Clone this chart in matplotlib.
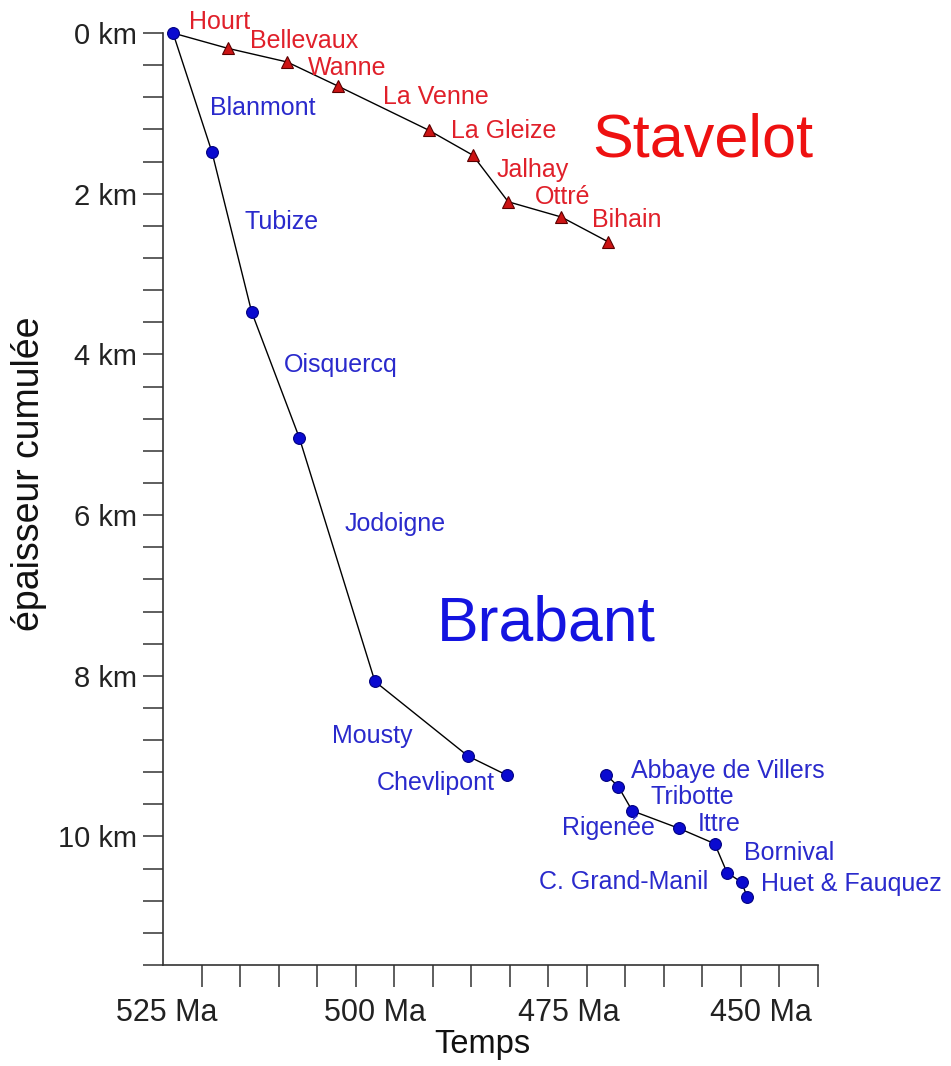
import matplotlib.pyplot as plt
import matplotlib.transforms as mtransforms

plt.rcParams["font.family"] = ["Liberation Sans", "DejaVu Sans"]

# Stavelot massif (red triangles) - age in Ma, cumulative thickness in km
stav_ma = [528.7, 521.6, 513.9, 507.3, 495.5, 489.8, 485.2, 478.3, 472.2]
stav_km = [0.0, 0.19, 0.36, 0.66, 1.21, 1.52, 2.10, 2.29, 2.60]
stav_names = ["Hourt", "Bellevaux", "Wanne", "La Venne", "La Gleize",
              "Jalhay", "Ottré", "Bihain"]
stav_label_pos = [(526.6, -0.14), (518.7, 0.10), (511.2, 0.44), (501.5, 0.80),
                  (492.6, 1.22), (486.7, 1.71), (481.8, 2.04), (474.3, 2.33)]

# Brabant massif (blue circles), two separate segments
brab1_ma = [528.7, 523.65, 518.5, 512.3, 502.5, 490.4, 485.3]
brab1_km = [0.0, 1.48, 3.47, 5.04, 8.07, 9.00, 9.24]
brab2_ma = [472.5, 470.9, 469.1, 463.0, 458.4, 456.8, 454.9, 454.2]
brab2_km = [9.23, 9.38, 9.68, 9.90, 10.09, 10.45, 10.57, 10.75]
brab_names = ["Blanmont", "Tubize", "Oisquercq", "Jodoigne", "Mousty",
              "Chevlipont", "Abbaye de Villers", "Tribotte", "Rigenée",
              "Ittre", "Bornival", "C. Grand-Manil", "Huet & Fauquez"]
brab_label_pos = [(523.9, 0.93), (519.4, 2.35), (514.3, 4.13), (506.4, 6.11),
                  (508.1, 8.75), (502.2, 9.34), (469.2, 9.18), (466.7, 9.51),
                  (478.2, 9.90), (460.6, 9.84), (454.6, 10.21), (481.2, 10.57),
                  (452.4, 10.59)]

x_major = [525, 500, 475, 450]
x_labels = ["525 Ma", "500 Ma", "475 Ma", "450 Ma"]
y_major = [0, 2, 4, 6, 8, 10]
y_labels = ["0 km", "2 km", "4 km", "6 km", "8 km", "10 km"]

RED_TXT = "#e0202a"
BLUE_TXT = "#2a2acc"

fig = plt.figure(figsize=(9.51, 10.66), dpi=100)
ax = fig.add_axes([0.1714, 0.0947, 0.6887, 0.8743])

ax.plot(stav_ma, stav_km, color="black", lw=1, zorder=2, clip_on=False)
ax.plot(stav_ma[1:], stav_km[1:], ls="none", marker="^", ms=9,
        mfc="#cc1414", mec="#5a0000", mew=0.8, zorder=3, clip_on=False)

ax.plot(brab1_ma, brab1_km, color="black", lw=1, zorder=2, clip_on=False)
ax.plot(brab2_ma, brab2_km, color="black", lw=1, zorder=2, clip_on=False)
for xs, ys in [(brab1_ma, brab1_km), (brab2_ma, brab2_km)]:
    ax.plot(xs, ys, ls="none", marker="o", ms=8.5, mfc="#0a0ad0",
            mec="#000080", mew=0.8, zorder=3, clip_on=False)

for name, (x, y) in zip(stav_names, stav_label_pos):
    ax.text(x, y, name, color=RED_TXT, fontsize=18, ha="left", va="center")
for name, (x, y) in zip(brab_names, brab_label_pos):
    ax.text(x, y, name, color=BLUE_TXT, fontsize=18, ha="left", va="center")

ax.text(474.3, 1.34, "Stavelot", color="#ee1111", fontsize=44,
        ha="left", va="center")
ax.text(494.5, 7.35, "Brabant", color="#1414e0", fontsize=45,
        ha="left", va="center")

ax.set_xlim(530, 445)
ax.set_ylim(11.6, 0)

ax.set_xticks(x_major)
ax.set_xticklabels(x_labels)
ax.set_xticks([525 - 5 * i for i in range(17)], minor=True)
ax.set_yticks(y_major)
ax.set_yticklabels(y_labels)
ax.set_yticks([0.4 * i for i in range(30)], minor=True)

for side in ["top", "right"]:
    ax.spines[side].set_visible(False)
for side in ["left", "bottom"]:
    ax.spines[side].set_color("#333333")
    ax.spines[side].set_linewidth(1.2)

ax.tick_params(axis="x", which="both", direction="out", length=16,
               width=1.1, color="#333333")
ax.tick_params(axis="y", which="both", direction="out", length=14.5,
               width=1.1, color="#333333")
ax.tick_params(axis="x", which="major", labelsize=22, pad=8,
               labelcolor="#222222")
ax.tick_params(axis="y", which="major", labelsize=21, pad=4,
               labelcolor="#222222")

# tick labels in the original sit a little left of their ticks
for lab, dx in zip(ax.get_xticklabels(), [-35, -19, -18, -18]):
    off = mtransforms.ScaledTranslation(dx / 100, 0, fig.dpi_scale_trans)
    lab.set_transform(lab.get_transform() + off)

ax.set_xlabel("Temps", fontsize=23.5, color="#111111")
ax.xaxis.set_label_coords(0.487, -0.069)
ax.set_ylabel("épaisseur cumulée", fontsize=27, color="#111111")
ax.yaxis.set_label_coords(-0.177, 0.527)

fig.savefig("out.png", dpi=100)
